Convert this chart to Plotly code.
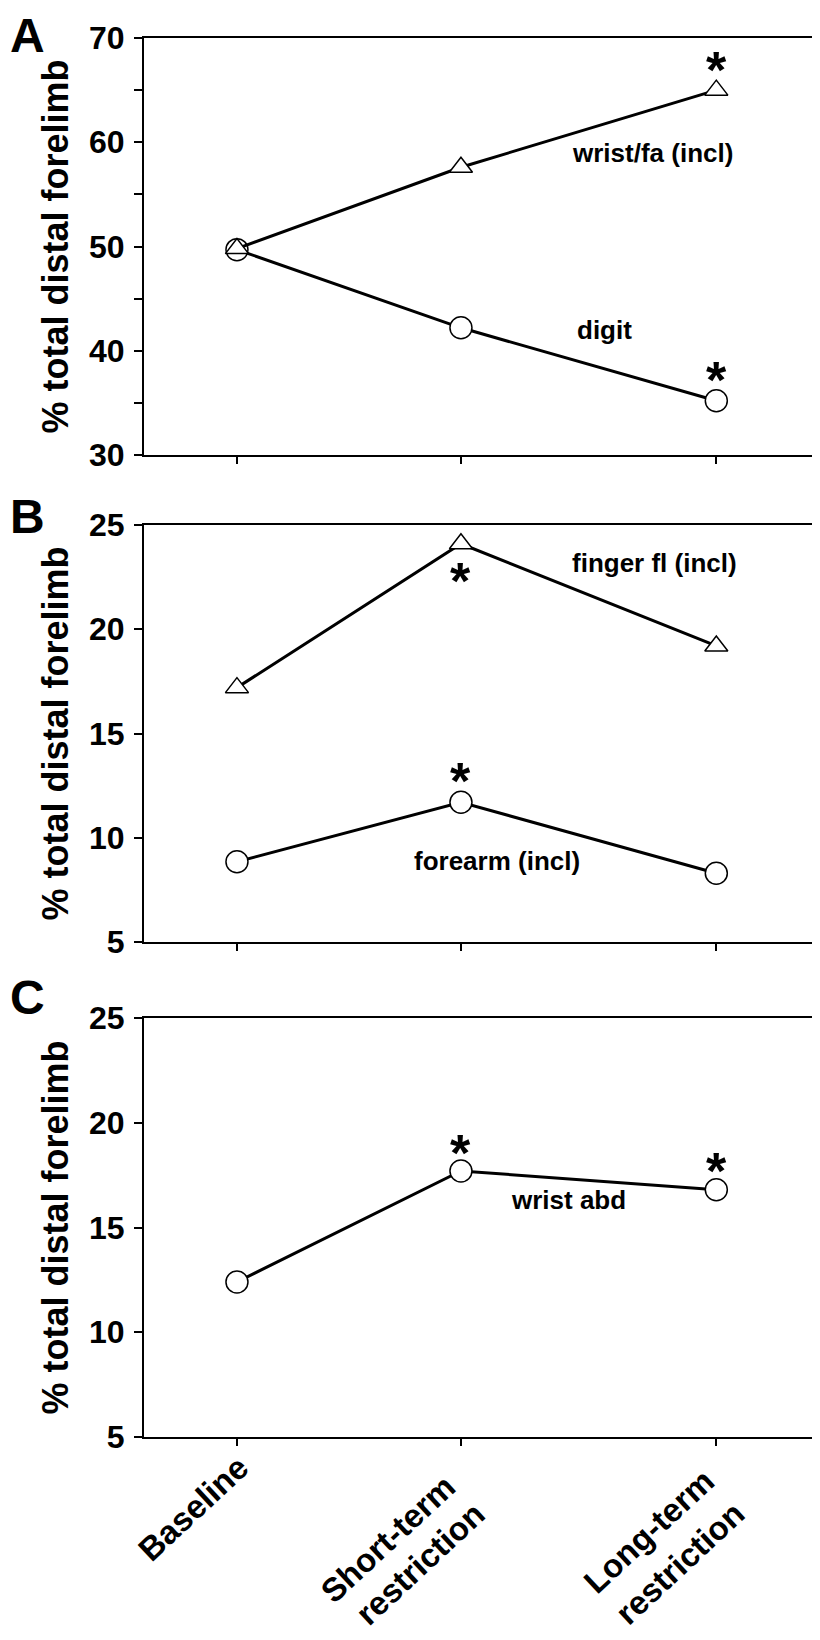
import plotly.graph_objects as go

# ---------------- data ----------------
categories = ["Baseline", "Short-term<br>restriction", "Long-term<br>restriction"]
x_pos = [0, 1, 2.14]  # horizontal placement of the three conditions

# Panel A
a_wrist_fa = [49.8, 57.6, 65.0]
a_digit = [49.7, 42.2, 35.2]
# Panel B
b_finger_fl = [17.2, 24.1, 19.2]
b_forearm = [8.85, 11.7, 8.3]
# Panel C
c_wrist_abd = [12.4, 17.7, 16.8]

y_title = "% total distal forelimb"
FONT = "Liberation Sans, Arial, Helvetica, sans-serif"

# ---------------- layout geometry ----------------
# the page body adds an 8px margin, so the figure is 8px smaller than the window
PAD = 8
W, H = 820 - PAD, 1640 - PAD
ML, MR, MT, MB = 144 - PAD, 2, 38 - PAD, 203
PW = W - ML - MR
PH = H - MT - MB


def py(ref_y):
    return (H - MB - (ref_y - PAD)) / PH


def px(ref_x):
    return (ref_x - PAD - ML) / PW


domA = [py(455), py(38)]
domB = [py(942), py(525)]
domC = [py(1437), py(1018)]

fig = go.Figure()

circle = dict(symbol="circle", size=22, color="white", line=dict(color="black", width=1.5))
tri = dict(symbol="triangle-up", size=20, color="white", line=dict(color="black", width=1.5))
line = dict(color="black", width=3)

fig.add_trace(go.Scatter(x=x_pos, y=a_digit, mode="lines+markers", marker=circle, line=line,
                         xaxis="x", yaxis="y", showlegend=False))
fig.add_trace(go.Scatter(x=x_pos, y=a_wrist_fa, mode="lines+markers", marker=tri, line=line,
                         xaxis="x", yaxis="y", showlegend=False))
fig.add_trace(go.Scatter(x=x_pos, y=b_finger_fl, mode="lines+markers", marker=tri, line=line,
                         xaxis="x2", yaxis="y2", showlegend=False))
fig.add_trace(go.Scatter(x=x_pos, y=b_forearm, mode="lines+markers", marker=circle, line=line,
                         xaxis="x2", yaxis="y2", showlegend=False))
fig.add_trace(go.Scatter(x=x_pos, y=c_wrist_abd, mode="lines+markers", marker=circle, line=line,
                         xaxis="x3", yaxis="y3", showlegend=False))

xrange = [-0.415, 2.594]

common_x = dict(range=xrange, tickvals=x_pos, ticktext=categories, showline=True, mirror=True,
                linecolor="black", linewidth=2, ticks="outside", ticklen=7, tickwidth=1.5,
                tickcolor="black", showgrid=False, zeroline=False, fixedrange=True,
                automargin=False, showticklabels=False, domain=[0, 1])
common_y = dict(showline=True, mirror=True, linecolor="black", linewidth=2, ticks="outside",
                ticklen=8, tickwidth=1.5, tickcolor="black", showgrid=False, zeroline=False,
                tickfont=dict(family=FONT, size=32, color="black", weight="bold"),
                ticklabelstandoff=3, automargin=False)

fig.update_layout(
    template="none",
    width=W, height=H,
    margin=dict(l=ML, r=MR, t=MT, b=MB, autoexpand=False),
    paper_bgcolor="white", plot_bgcolor="white",
    font=dict(family=FONT, color="black"),
    showlegend=False,
    xaxis=dict(**common_x, anchor="y"),
    xaxis2=dict(**common_x, anchor="y2"),
    xaxis3=dict(**common_x, anchor="y3"),
    yaxis=dict(**common_y, domain=domA, anchor="x", range=[30, 70], tickvals=[30, 40, 50, 60, 70],
               minor=dict(ticks="outside", ticklen=8, tickwidth=1.5, tickcolor="black",
                          tickvals=[35, 45, 55, 65])),
    yaxis2=dict(**common_y, domain=domB, anchor="x2", range=[5, 25], tickvals=[5, 10, 15, 20, 25]),
    yaxis3=dict(**common_y, domain=domC, anchor="x3", range=[5, 25], tickvals=[5, 10, 15, 20, 25]),
)

ann = []
letter_font = dict(family=FONT, size=48, color="black", weight="bold")
# panel letters
ann.append(dict(text="A", xref="paper", yref="paper", x=px(27), y=py(PAD), xanchor="center",
                yanchor="top", showarrow=False, borderpad=0, font=letter_font))
ann.append(dict(text="B", xref="paper", yref="paper", x=px(27), y=py(516), xanchor="center",
                yanchor="middle", showarrow=False, borderpad=0, font=letter_font))
ann.append(dict(text="C", xref="paper", yref="paper", x=px(27), y=py(997), xanchor="center",
                yanchor="middle", showarrow=False, borderpad=0, font=letter_font))
# y titles
for dom in (domA, domB, domC):
    ann.append(dict(text=y_title, xref="paper", yref="paper", x=px(55), y=(dom[0] + dom[1]) / 2,
                    xanchor="center", yanchor="middle", textangle=-90, showarrow=False,
                    font=dict(family=FONT, size=36, color="black", weight="bold")))

# rotated category labels under panel C (one annotation per text line)
xlab_font = dict(family=FONT, size=33, color="black", weight="bold")
xlab_place = [[(-44, 1508)], [(-73, 1538), (-41, 1563)], [(-68, 1531), (-37, 1563)]]
for xv, cat, places in zip(x_pos, categories, xlab_place):
    for part, (dx, ry) in zip(cat.split("<br>"), places):
        ann.append(dict(text=part, xref="x3", yref="paper", x=xv, xshift=dx, y=py(ry),
                        xanchor="center", yanchor="middle", textangle=-43, showarrow=False,
                        font=xlab_font))

lab_font = dict(family=FONT, size=26, color="black", weight="bold")
ann += [
    dict(text="wrist/fa (incl)", xref="x", yref="y", x=1.853, y=59.0, showarrow=False, font=lab_font),
    dict(text="digit", xref="x", yref="y", x=1.643, y=42.0, showarrow=False, font=lab_font),
    dict(text="finger fl (incl)", xref="x2", yref="y2", x=1.862, y=23.2, showarrow=False, font=lab_font),
    dict(text="forearm (incl)", xref="x2", yref="y2", x=1.161, y=8.9, showarrow=False, font=lab_font),
    dict(text="wrist abd", xref="x3", yref="y3", x=1.478, y=16.3, showarrow=False, font=lab_font),
]

star_font = dict(family=FONT, size=52, color="black", weight="bold")
OFF = 7
stars = [
    ("x", "y", x_pos[2], a_wrist_fa[2], 27),
    ("x", "y", x_pos[2], a_digit[2], 28),
    ("x2", "y2", x_pos[1], b_finger_fl[1], -30),
    ("x2", "y2", x_pos[1], b_forearm[1], 28),
    ("x3", "y3", x_pos[1], c_wrist_abd[1], 25),
    ("x3", "y3", x_pos[2], c_wrist_abd[2], 26),
]
for xr, yr, xv, yv, sh in stars:
    ann.append(dict(text="*", xref=xr, yref=yr, x=xv, y=yv, showarrow=False, xanchor="center",
                    yanchor="middle", yshift=sh - OFF, font=star_font))

fig.update_layout(annotations=ann)
fig.write_html("out.html")
